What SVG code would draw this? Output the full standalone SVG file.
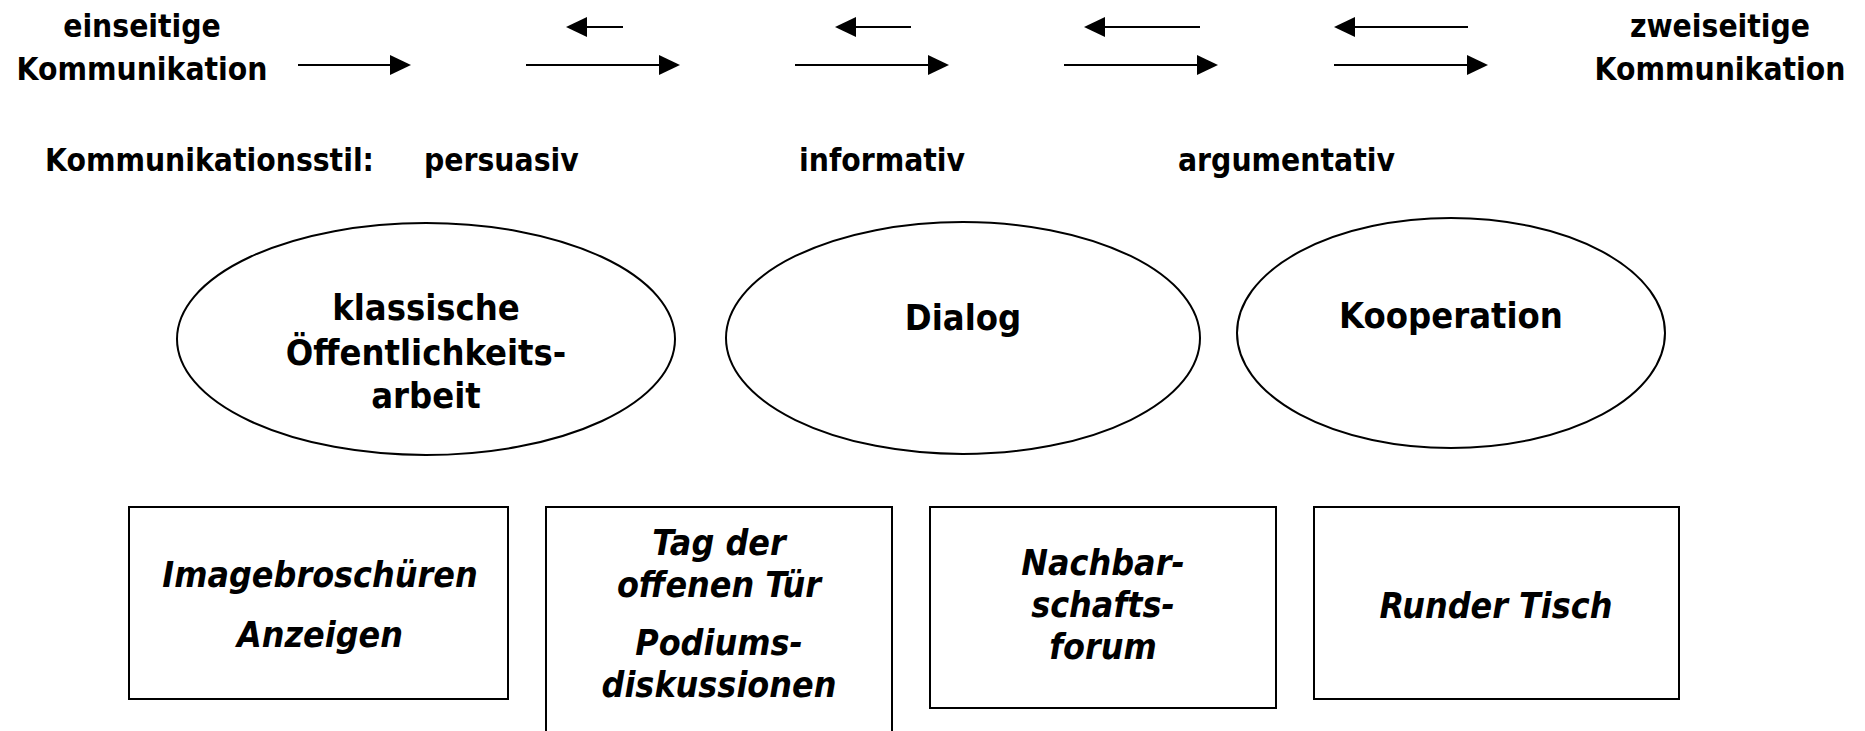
<svg xmlns="http://www.w3.org/2000/svg" width="1865" height="731" viewBox="0 0 1865 731">
<style>
text{font-family:"DejaVu Sans Condensed","DejaVu Sans",sans-serif;font-stretch:condensed;font-weight:bold;fill:#000}
.top{font-size:31.5px}
.ell{font-size:36px;text-anchor:middle}
.box{font-size:35.5px;font-style:italic;text-anchor:middle}
.mid{text-anchor:middle}
.shape{fill:#fff;stroke:#000;stroke-width:2}
.arr{stroke:#000;stroke-width:2;fill:none}
</style>
<defs>
<marker id="ah" markerUnits="userSpaceOnUse" markerWidth="22" markerHeight="22" refX="1" refY="10" orient="auto">
<path d="M0,0 L21,10 L0,20 Z" fill="#000"/>
</marker>
</defs>
<rect width="1865" height="731" fill="#fff"/>

<g id="label-einseitig">
<text class="top mid" x="142" y="37">einseitige</text>
<text class="top mid" x="142" y="80">Kommunikation</text>
</g>
<g id="label-zweiseitig">
<text class="top mid" x="1720" y="37">zweiseitige</text>
<text class="top mid" x="1720" y="80">Kommunikation</text>
</g>

<g id="connectors">
<line class="arr" x1="298" y1="65" x2="391" y2="65" marker-end="url(#ah)"/>
<line class="arr" x1="526" y1="65" x2="660" y2="65" marker-end="url(#ah)"/>
<line class="arr" x1="795" y1="65" x2="929" y2="65" marker-end="url(#ah)"/>
<line class="arr" x1="1064" y1="65" x2="1198" y2="65" marker-end="url(#ah)"/>
<line class="arr" x1="1334" y1="65" x2="1468" y2="65" marker-end="url(#ah)"/>
<line class="arr" x1="623" y1="27" x2="586" y2="27" marker-end="url(#ah)"/>
<line class="arr" x1="911" y1="27" x2="855" y2="27" marker-end="url(#ah)"/>
<line class="arr" x1="1200" y1="27" x2="1104" y2="27" marker-end="url(#ah)"/>
<line class="arr" x1="1468" y1="27" x2="1354" y2="27" marker-end="url(#ah)"/>
</g>

<g id="stil">
<text class="top" x="45" y="171">Kommunikationsstil:</text>
<text class="top" x="424" y="171">persuasiv</text>
<text class="top" x="799" y="171">informativ</text>
<text class="top" x="1178" y="171">argumentativ</text>
</g>

<g id="ellipse-klassisch">
<ellipse class="shape" cx="426" cy="339" rx="249" ry="116"/>
<text class="ell" x="426" y="320">klassische</text>
<text class="ell" x="426" y="365">Öffentlichkeits-</text>
<text class="ell" x="426" y="408">arbeit</text>
</g>
<g id="ellipse-dialog">
<ellipse class="shape" cx="963" cy="338" rx="237" ry="116"/>
<text class="ell" x="963" y="330">Dialog</text>
</g>
<g id="ellipse-kooperation">
<ellipse class="shape" cx="1451" cy="333" rx="214" ry="115"/>
<text class="ell" x="1451" y="328">Kooperation</text>
</g>

<g id="box-image">
<rect class="shape" x="129" y="507" width="379" height="192"/>
<text class="box" x="320" y="587">Imagebroschüren</text>
<text class="box" x="320" y="647">Anzeigen</text>
</g>
<g id="box-tag">
<rect class="shape" x="546" y="507" width="346" height="240"/>
<text class="box" x="719" y="555">Tag der</text>
<text class="box" x="719" y="597">offenen Tür</text>
<text class="box" x="719" y="655">Podiums-</text>
<text class="box" x="719" y="697">diskussionen</text>
</g>
<g id="box-nachbar">
<rect class="shape" x="930" y="507" width="346" height="201"/>
<text class="box" x="1103" y="575">Nachbar-</text>
<text class="box" x="1103" y="617">schafts-</text>
<text class="box" x="1103" y="659">forum</text>
</g>
<g id="box-tisch">
<rect class="shape" x="1314" y="507" width="365" height="192"/>
<text class="box" x="1496" y="618">Runder Tisch</text>
</g>
</svg>
